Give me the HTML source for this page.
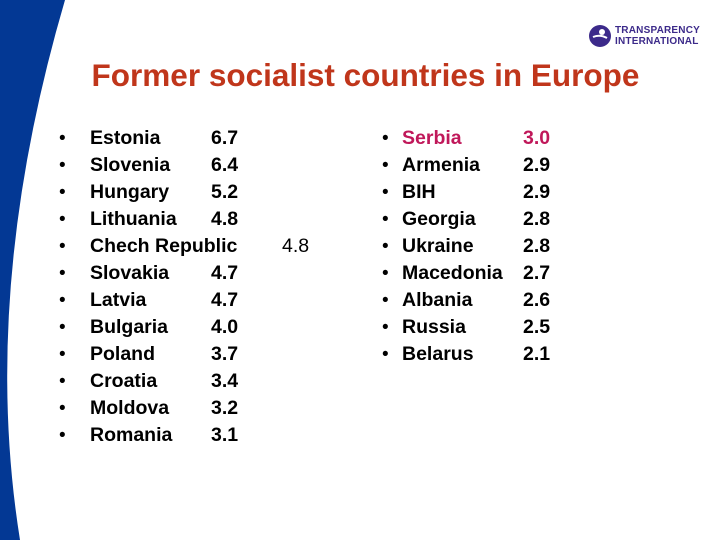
<!DOCTYPE html>
<html><head><meta charset="utf-8"><style>
html,body{margin:0;padding:0;background:#fff}
#s{position:relative;width:720px;height:540px;overflow:hidden;font-family:"Liberation Sans",Arial,sans-serif}
.t{position:absolute;font-weight:bold;font-size:19.5px;line-height:27px;color:#000;white-space:nowrap}
.b{position:absolute;font-size:19px;line-height:27px}
</style></head><body>
<div id="s">
<svg width="720" height="540" style="position:absolute;left:0;top:0">
<path d="M0,0 L65,0 Q-20,290 20,540 L0,540 Z" fill="#033894"/>
</svg>
<div style="position:absolute;left:588px;top:24px;">
<svg width="24" height="24" style="position:absolute;left:0;top:0"><circle cx="12" cy="12" r="11" fill="#3c2a8a"/><circle cx="14" cy="8" r="3" fill="#fff"/><path d="M5,13 Q12,10 19,14" stroke="#fff" stroke-width="2" fill="none"/></svg>
<div style="position:absolute;left:27px;top:1px;font:bold 10px/11px 'Liberation Sans',sans-serif;color:#3c2a8a;letter-spacing:0.2px">TRANSPARENCY<br>INTERNATIONAL</div>
</div>
<div style="position:absolute;left:0;width:731px;top:57px;text-align:center;font-weight:bold;font-size:31.5px;color:#c0361b">Former socialist countries in Europe</div>
<div class="t" style="left:282px;top:233px;font-weight:normal">4.8</div>
</div>
<script>
const leftNames=["Estonia","Slovenia","Hungary","Lithuania","Chech Republic","Slovakia","Latvia","Bulgaria","Poland","Croatia","Moldova","Romania"];
const leftVals=["6.7","6.4","5.2","4.8","","4.7","4.7","4.0","3.7","3.4","3.2","3.1"];
const rightNames=["Serbia","Armenia","BIH","Georgia","Ukraine","Macedonia","Albania","Russia","Belarus"];
const rightVals=["3.0","2.9","2.9","2.8","2.8","2.7","2.6","2.5","2.1"];
const s=document.getElementById('s');
function add(cls,x,y,txt,color){const d=document.createElement('div');d.className=cls;d.style.left=x+'px';d.style.top=y+'px';d.textContent=txt;if(color)d.style.color=color;s.appendChild(d);return d;}
leftNames.forEach((n,i)=>{const y=125+i*27;
const b=add('b',59,y,'•');


const a=add('t',90,y,n);


if(leftVals[i]){const v=add('t',211,y,leftVals[i]);

}
});
rightNames.forEach((n,i)=>{const y=125+i*27;const c=i===0?'#c0185a':null;
const b=add('b',382,y,'•');


const a=add('t',402,y,n,c);


const v=add('t',523,y,rightVals[i],c);


});
</script>
</body></html>
